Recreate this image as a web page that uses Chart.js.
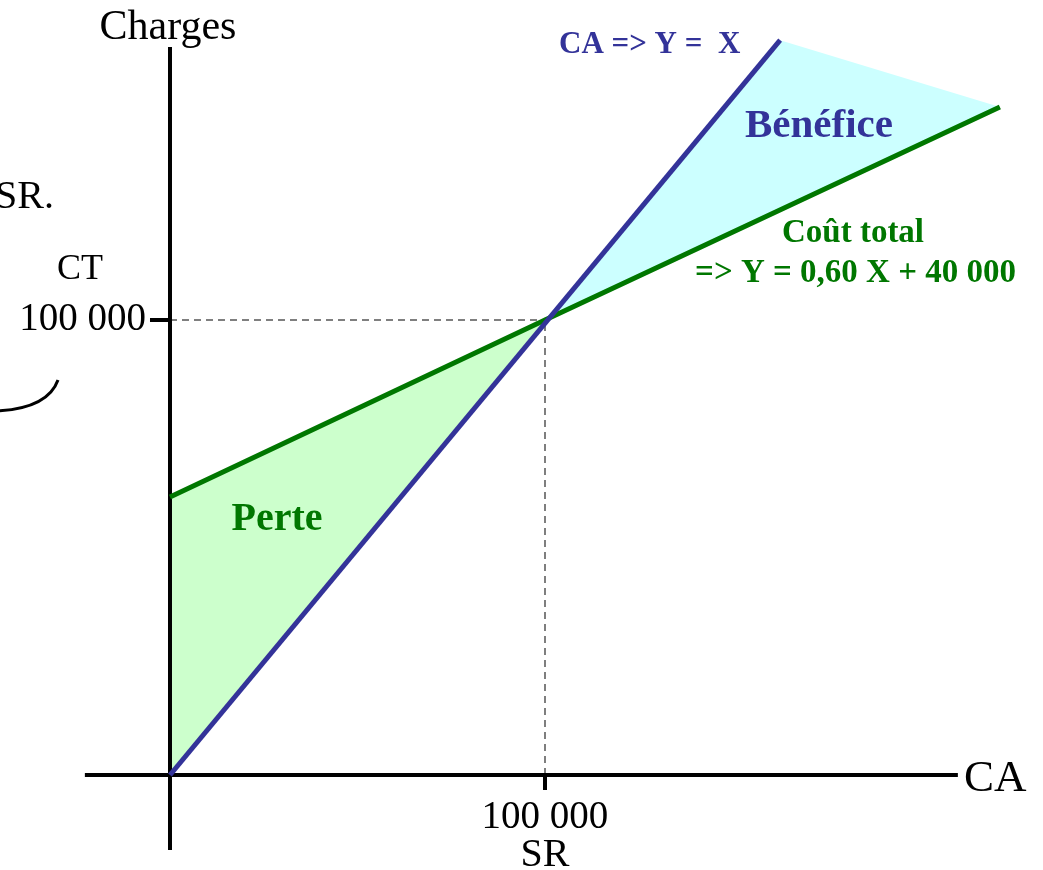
<!DOCTYPE html>
<html>
<head>
<meta charset="utf-8">
<script src="https://cdn.jsdelivr.net/npm/chart.js@4.4.1/dist/chart.umd.min.js"></script>
<style>
  body { margin: 0; background: #fff; }
  #wrap { width: 1043px; height: 870px; }
</style>
</head>
<body>
<div id="wrap"><canvas id="myChart" width="1043" height="870"></canvas></div>
<script>
// seuil de rentabilite
const breakEven = 100000;

// chiffre d'affaires  (Y = X)
const caX = [0, 162700];
const caY = [0, 161500];

// cout total
const ctX = [0, 100000, 221300];
const ctY = [61100, 100000, 146800];

// zones
const perteX = [0, 100000, 0];
const perteY = [0, 100000, 61100];
const beneficeX = [100000, 162700, 221300];
const beneficeY = [100000, 161500, 146800];

// axes
const xAxisX = [-22700, 210100];
const xAxisY = [0, 0];
const yAxisX = [0, 0];
const yAxisY = [-16500, 160000];

const tickLabel = '100 000';

function pts(xs, ys) {
  return xs.map((x, i) => ({ x: x, y: ys[i] }));
}

const serif = '"Liberation Serif", "DejaVu Serif", serif';

const textPlugin = {
  id: 'texts',
  afterDraw(chart) {
    const ctx = chart.ctx;
    const xs = chart.scales.x;
    const ys = chart.scales.y;
    const px = xs.getPixelForValue(breakEven);
    const py = ys.getPixelForValue(breakEven);
    const ox = xs.getPixelForValue(0);
    const oy = ys.getPixelForValue(0);
    ctx.save();
    // tick stubs
    ctx.strokeStyle = '#000';
    ctx.lineWidth = 4;
    ctx.beginPath();
    ctx.moveTo(px, oy);
    ctx.lineTo(px, oy + 15);
    ctx.moveTo(ox, py);
    ctx.lineTo(ox - 20, py);
    ctx.stroke();

    // curve at left
    ctx.lineWidth = 3;
    ctx.beginPath();
    ctx.moveTo(-2, 411);
    ctx.quadraticCurveTo(48, 408, 58, 380);
    ctx.stroke();

    ctx.fillStyle = '#000';
    ctx.textBaseline = 'middle';
    ctx.textAlign = 'center';
    ctx.font = '42px ' + serif;
    ctx.fillText('Charges', ox - 2, 28);
    ctx.font = '36px ' + serif;
    ctx.fillText('CT', 80, 270);
    ctx.font = '39px ' + serif;
    ctx.fillText(tickLabel, px, 818);
    ctx.font = '40px ' + serif;
    ctx.fillText('SR', px, 855);
    ctx.textAlign = 'right';
    ctx.font = '39px ' + serif;
    ctx.fillText(tickLabel, ox - 24, py);
    ctx.font = '40px ' + serif;
    ctx.fillText('SR.', 54, 197);
    ctx.textAlign = 'left';
    ctx.font = '45px ' + serif;
    ctx.fillText('CA', 964, oy + 4);

    // blue labels
    ctx.fillStyle = '#333399';
    ctx.font = 'bold 31px ' + serif;
    ctx.textAlign = 'left';
    ctx.fillText('CA => Y =  X', 559, 45);
    ctx.font = 'bold 41px ' + serif;
    ctx.textAlign = 'center';
    ctx.fillText('Bénéfice', 819, 126);

    // green labels
    ctx.fillStyle = '#007700';
    ctx.font = 'bold 33px ' + serif;
    ctx.textAlign = 'center';
    ctx.fillText('Coût total', 853, 233);
    ctx.textAlign = 'right';
    ctx.fillText('=> Y = 0,60 X + 40 000', 1016, 273);
    ctx.font = 'bold 40px ' + serif;
    ctx.textAlign = 'center';
    ctx.fillText('Perte', 277, 520);
    ctx.restore();
  }
};

const ctx = document.getElementById('myChart').getContext('2d');
const chart = new Chart(ctx, {
  type: 'scatter',
  data: {
    datasets: [
      { label: 'CA', data: pts(caX, caY), showLine: true, borderColor: '#333399', borderWidth: 5, pointRadius: 0, order: 1 },
      { label: 'CT', data: pts(ctX, ctY), showLine: true, borderColor: '#007700', borderWidth: 5, pointRadius: 0, order: 1 },
      { label: 'axe x', data: pts(xAxisX, xAxisY), showLine: true, borderColor: '#000', borderWidth: 4, pointRadius: 0, order: 2 },
      { label: 'axe y', data: pts(yAxisX, yAxisY), showLine: true, borderColor: '#000', borderWidth: 4, pointRadius: 0, order: 2 },
      { label: 'h', data: pts([0, breakEven], [breakEven, breakEven]), showLine: true, borderColor: '#555', borderWidth: 1.5, borderDash: [7, 5], pointRadius: 0, order: 3 },
      { label: 'v', data: pts([breakEven, breakEven], [0, breakEven]), showLine: true, borderColor: '#555', borderWidth: 1.5, borderDash: [7, 5], pointRadius: 0, order: 3 },
      { label: 'Perte', data: pts(perteX, perteY), showLine: true, borderWidth: 0, borderColor: 'rgba(0,0,0,0)', backgroundColor: '#ccffcc', fill: 'shape', pointRadius: 0, order: 5 },
      { label: 'Bénéfice', data: pts(beneficeX, beneficeY), showLine: true, borderWidth: 0, borderColor: 'rgba(0,0,0,0)', backgroundColor: '#ccffff', fill: 'shape', pointRadius: 0, order: 5 }
    ]
  },
  options: {
    responsive: false,
    animation: false,
    layout: { padding: 0, autoPadding: false },
    plugins: { legend: { display: false }, tooltip: { enabled: false } },
    scales: {
      x: { type: 'linear', min: -45333, max: 232800, display: false },
      y: { type: 'linear', min: -20879, max: 170330, display: false }
    }
  },
  plugins: [textPlugin]
});
</script>
</body>
</html>
